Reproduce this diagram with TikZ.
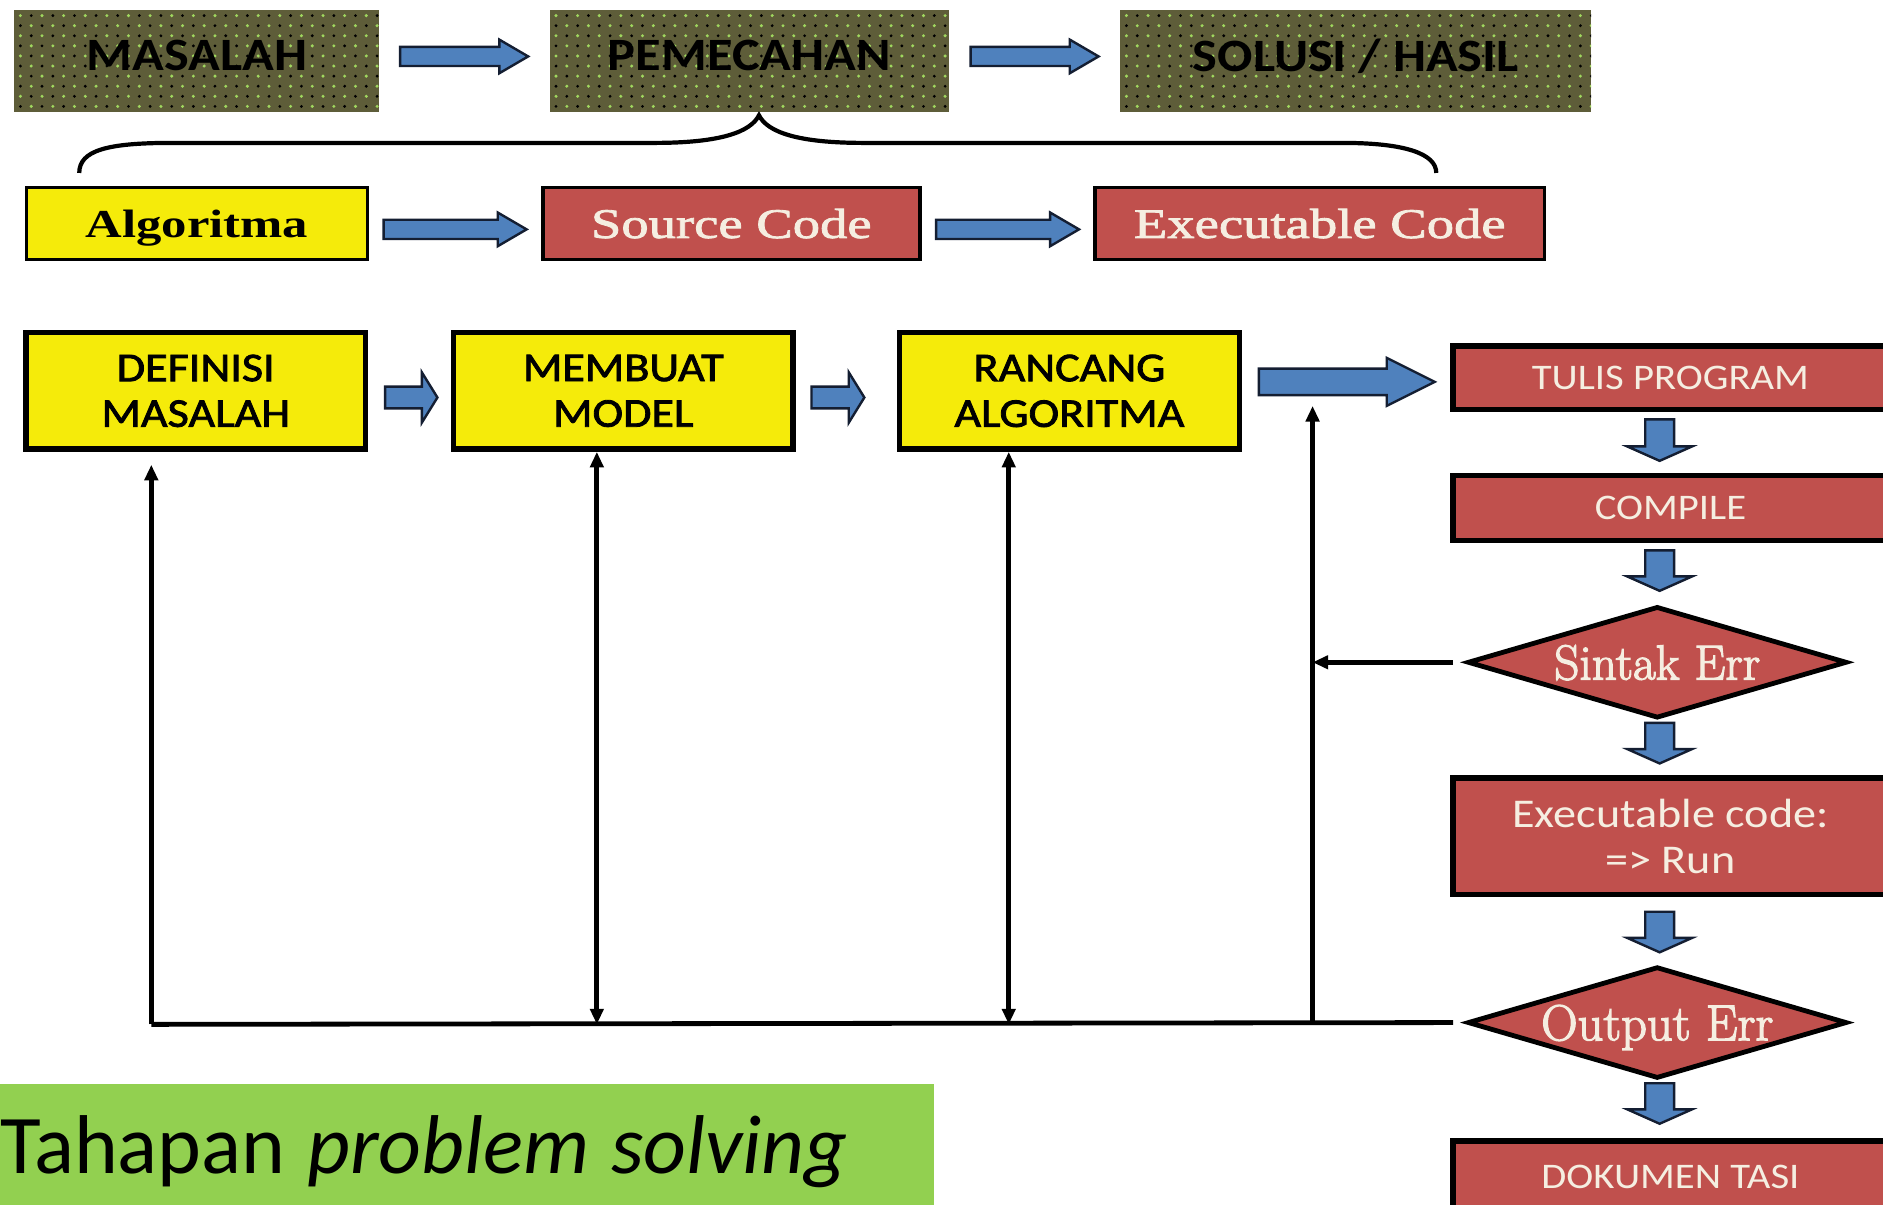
\documentclass[tikz,border=0pt]{standalone}
\usepackage{fontspec}
\newfontfamily\calw[FakeStretch=1.13]{Carlito}
\newfontfamily\calm[FakeStretch=1.13,FakeBold=2]{Carlito}
\newfontfamily\calf{Carlito}
\newfontfamily\timw[FakeStretch=1.28]{Liberation Serif}
\newfontfamily\timr[FakeStretch=1.3,FakeBold=2]{Liberation Serif}
\newfontfamily\lmb[FakeBold=2.5]{Latin Modern Roman}
\usetikzlibrary{shapes.geometric,arrows.meta,calc}
\definecolor{olive}{RGB}{94,93,57}
\definecolor{dotg}{RGB}{160,215,95}
\definecolor{boxyellow}{RGB}{245,235,10}
\definecolor{boxred}{RGB}{192,80,77}
\definecolor{cream}{RGB}{245,238,225}
\definecolor{arrblue}{RGB}{79,129,189}
\definecolor{arredge}{RGB}{20,30,50}
\definecolor{lgreen}{RGB}{146,208,80}

\newcommand\harrow[8]{%
 \filldraw[barrow] let \p1=(#1.east), \p2=(#2.west) in
  ({\x1+#3}, {\y1-(#8)+#5}) -- ({\x2-#4-#7}, {\y1-(#8)+#5}) -- ({\x2-#4-#7}, {\y1-(#8)+#6})
  -- ({\x2-#4}, {\y1-(#8)}) -- ({\x2-#4-#7}, {\y1-(#8)-#6}) -- ({\x2-#4-#7}, {\y1-(#8)-#5})
  -- ({\x1+#3}, {\y1-(#8)-#5}) -- cycle;}
\newcommand\darrow[4]{%
 \filldraw[barrow] let \p1=(#1.south), \p2=(#2.north), \p3=(colx) in
  ({\x3-12}, {\y1-#3}) -- ({\x3+12}, {\y1-#3}) -- ({\x3+12}, {\y2+#4+12}) -- ({\x3+27}, {\y2+#4+12})
  -- ({\x3}, {\y2+#4}) -- ({\x3-27}, {\y2+#4+12}) -- ({\x3-12}, {\y2+#4+12}) -- cycle;}

\begin{document}
\begin{tikzpicture}[x=1pt,y=-1pt,
  barrow/.style={fill=arrblue, draw=arredge, line width=2pt, line join=miter},
  olivebox/.style={rectangle, fill=olive, inner sep=0pt, minimum height=85pt,
    font=\calw\bfseries\fontsize{38.6pt}{44pt}\selectfont, text=black, text depth=9pt,
    path picture={
      \foreach \i in {0,...,44}{
        \foreach \j in {0,...,10}{
          \pgfmathtruncatemacro\dpar{mod(\i+\j,2)}
          \ifnum\dpar=0
            \fill[dotg] ($(path picture bounding box.north west)+(5+9*\i,5+8.4*\j)$) circle (1.4);
          \else
            \fill[black] ($(path picture bounding box.north west)+(5+9*\i,5+8.4*\j)$) circle (1.3);
          \fi
        }}}},
  rowtwo/.style={rectangle, draw=black, line width=3pt, inner sep=0pt, minimum height=60pt,
    text depth=0pt},
  yelbox/.style={rectangle, draw=black, fill=boxyellow, line width=4.5pt, inner sep=0pt,
    minimum width=283pt, minimum height=97pt, align=center,
    font=\calm\fontsize{34pt}{38pt}\selectfont},
  redcol/.style={rectangle, draw=black, fill=boxred, line width=4.5pt, inner sep=0pt,
    minimum width=362pt, text=cream, align=center},
  diam/.style={diamond, draw=black, fill=boxred, line width=4pt, inner sep=0pt, aspect=3.4,
    minimum width=316pt, minimum height=93pt, text=cream, text depth=0pt},
  conn/.style={draw=black, line width=4pt, line join=miter},
  tipa/.tip={Triangle[length=13pt,width=11pt]}
]
\clip (0,0) rectangle (1568,1003);
\fill[white] (0,0) rectangle (1568,1003);

% row 1
\node[olivebox, minimum width=304pt] (mas) at (164,50.5) {MASALAH};
\node[olivebox, minimum width=332pt] (pem) at (624,50.5) {PEMECAHAN};
\node[olivebox, minimum width=392pt] (sol) at (1129,50.5) {SOLUSI / HASIL};
\harrow{mas}{pem}{17}{18}{8}{14}{24}{-3.5}
\harrow{pem}{sol}{18}{18}{8}{14}{24}{-3.5}

% brace
\draw[line width=3.5pt] (66,144) .. controls (66,125) and (90,119) .. (143,119) -- (545,119)
  .. controls (600,119) and (625,110) .. (632,96) .. controls (639,110) and (664,119) .. (719,119)
  -- (1118,119) .. controls (1170,119) and (1196,128) .. (1196,144);

% row 2
\node[rowtwo, fill=boxyellow, minimum width=284pt, text=black,
  font=\timw\bfseries\fontsize{33pt}{38pt}\selectfont] (alg) at (164,186) {Algoritma};
\node[rowtwo, fill=boxred, minimum width=314pt, text=cream,
  font=\timr\fontsize{35pt}{40pt}\selectfont] (src) at (609,186) {Source Code};
\node[rowtwo, fill=boxred, minimum width=374pt, text=cream,
  font=\timr\fontsize{35pt}{40pt}\selectfont] (exc) at (1099,186) {Executable Code};
\harrow{alg}{src}{12}{12}{8}{14}{24}{5}
\harrow{src}{exc}{12}{12}{8}{14}{24}{5}

% row 3
\node[yelbox] (def) at (163,325.5) {DEFINISI\\MASALAH};
\node[yelbox] (mem) at (519,325.5) {MEMBUAT\\MODEL};
\node[yelbox] (ran) at (890.5,325.5) {RANCANG\\ALGORITMA};
\harrow{def}{mem}{14}{11}{9}{21}{13}{5.5}
\harrow{mem}{ran}{13}{27}{9}{21}{13}{5.5}

% right column
\coordinate (colx) at (1382,0);
\node[redcol, minimum height=53pt, font=\calw\fontsize{30pt}{34pt}\selectfont, text depth=0pt] (tul) at (1391,314.5) {TULIS PROGRAM};
\node[redcol, minimum height=54pt, font=\calw\fontsize{30pt}{34pt}\selectfont, text depth=0pt] (cmp) at (1391,423) {COMPILE};
\node[diam, font=\lmb\fontsize{41pt}{46pt}\selectfont] (serr) at (1380,551.5) {Sintak Err};
\node[redcol, minimum height=97pt, font=\calw\fontsize{34pt}{38pt}\selectfont] (exe) at (1391,696.5) {Executable code:\\=> Run};
\node[diam, font=\lmb\fontsize{42pt}{46pt}\selectfont] (oerr) at (1380,851.5) {Output Err};
\node[redcol, minimum height=60pt, font=\calw\fontsize{30pt}{34pt}\selectfont, text depth=0pt] (dok) at (1391,980) {DOKUMEN TASI};
\harrow{ran}{tul}{14}{13}{11}{20}{40}{-7.5}
\darrow{tul}{cmp}{6}{10}
\darrow{cmp}{serr}{6}{11}
\darrow{serr}{exe}{2}{10}
\darrow{exe}{oerr}{12}{10}
\darrow{oerr}{dok}{2}{12}

% feedback lines
\coordinate (c1) at (126,853);
\coordinate (t1) at (126,387);
\coordinate (m1) at (497,853);
\coordinate (r1) at (840,853);
\coordinate (s1) at (1093,853);
\coordinate (s2) at (1093,338);
\draw[conn] ([xshift=-10pt]oerr.west) -- (c1);
\draw[conn,-tipa] (c1) -- (t1);
\draw[conn,tipa-tipa] (mem.south -| m1) -- (m1);
\draw[conn,tipa-tipa] (ran.south -| r1) -- (r1);
\draw[conn,-tipa] (s1) -- (s2);
\draw[conn,-tipa] ([xshift=-10pt]serr.west) -- (serr.west -| s1);

% caption
\node[rectangle, fill=lgreen, inner sep=0pt, minimum width=778pt, minimum height=100pt,
  text width=778pt, align=left, text depth=0pt,
  font=\calf\fontsize{69.5pt}{78pt}\selectfont]
  (cap) at (389,953) {\spaceskip=18pt\relax Tahapan \textit{problem solving}};
\end{tikzpicture}
\end{document}
